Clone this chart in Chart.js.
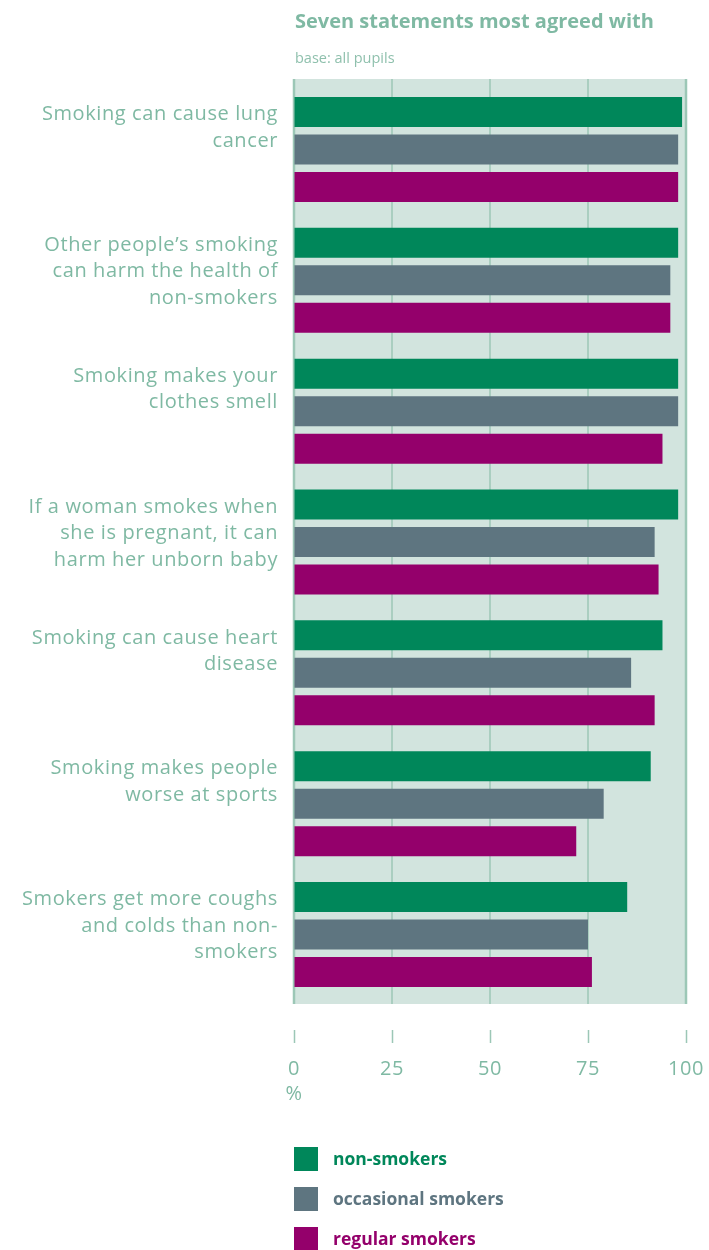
<!DOCTYPE html>
<html>
<head>
<meta charset="utf-8">
<script src="https://cdn.jsdelivr.net/npm/chart.js@4.4.1/dist/chart.umd.min.js"></script>
<style>
  body { margin: 0; background: #fff; font-family: "Open Sans", sans-serif; }
  #wrap { position: relative; width: 709px; height: 1250px; }
  #title { position: absolute; left: 295px; top: 7px; font-size: 20px; font-weight: bold; color: #7fb9a3; white-space: nowrap; }
  #sub { position: absolute; left: 295px; top: 48px; font-size: 14.5px; color: #8fc0ad; white-space: nowrap; }
  #legend { position: absolute; left: 294px; top: 1147px; }
  .item { height: 40px; display: flex; align-items: flex-start; }
  .box { width: 24px; height: 24px; margin-right: 15px; }
  .txt { font-size: 17.5px; font-weight: bold; line-height: 22px; }
</style>
</head>
<body>
<div id="wrap">
  <canvas id="grafica"></canvas>
  <div id="title">Seven statements most agreed with</div>
  <div id="sub">base: all pupils</div>
  <div id="legend"></div>
</div>
<script>
var categorias = [
  ['Smoking can cause lung', 'cancer'],
  ['Other people\u2019s smoking', 'can harm the health of', 'non-smokers'],
  ['Smoking makes your', 'clothes smell'],
  ['If a woman smokes when', 'she is pregnant, it can', 'harm her unborn baby'],
  ['Smoking can cause heart', 'disease'],
  ['Smoking makes people', 'worse at sports'],
  ['Smokers get more coughs', 'and colds than non-', 'smokers']
];
var noFumadores = [99, 98, 98, 98, 94, 91, 85];
var ocasionales = [98, 96, 98, 92, 86, 79, 75];
var regulares = [98, 96, 94, 93, 92, 72, 76];
var marcas = [0, 25, 50, 75, 100];

var series = ['non-smokers', 'occasional smokers', 'regular smokers'];
var colores = ['#00875a', '#5e7580', '#94006b'];
var verdeTexto = '#7fb9a3';

// fondo del area y lineas verticales
var fondo = {
  id: 'fondo',
  beforeLayout: function(chart) { chart.ctx.letterSpacing = '0.6px'; },
  beforeDraw: function(chart) {
    var ctx = chart.ctx, a = chart.chartArea, x = chart.scales.x;
    ctx.letterSpacing = '0.6px';
    ctx.save();
    ctx.fillStyle = '#d2e4de';
    ctx.fillRect(a.left, a.top - 5, a.right - a.left, a.bottom - a.top + 9);
    ctx.strokeStyle = '#9cc7b6';
    marcas.forEach(function(v) {
      var px = x.getPixelForValue(v);
      ctx.lineWidth = (v === 0 || v === 100) ? 2.5 : 1.5;
      ctx.beginPath();
      ctx.moveTo(px, a.top - 5);
      ctx.lineTo(px, a.bottom + 4);
      ctx.stroke();
    });
    ctx.restore();
  }
};

var grafica = document.getElementById('grafica').getContext('2d');

var barras = new Chart(grafica, {
  type: 'bar',
  data: {
    labels: categorias,
    datasets: [{
      label: series[0],
      data: noFumadores,
      backgroundColor: colores[0]
    }, {
      label: series[1],
      data: ocasionales,
      backgroundColor: colores[1]
    }, {
      label: series[2],
      data: regulares,
      backgroundColor: colores[2]
    }]
  },
  options: {
    indexAxis: 'y',
    responsive: true,
    maintainAspectRatio: false,
    animation: false,
    categoryPercentage: 0.86,
    barPercentage: 0.8,
    layout: { padding: { top: 84, right: 23, left: 0, bottom: 140 } },
    plugins: { legend: { display: false }, tooltip: { enabled: false } },
    scales: {
      x: {
        min: 0,
        max: 100,
        afterFit: function(s) { s.height = 110; s.paddingLeft = 0; s.paddingRight = 0; },
        afterBuildTicks: function(s) { s.ticks = marcas.map(function(v) { return { value: v }; }); },
        border: { display: false },
        grid: {
          drawOnChartArea: false,
          tickLength: 43,
          tickColor: '#9cc7b6',
          tickWidth: 1.5,
          tickBorderDash: [0, 30, 13, 200]
        },
        ticks: {
          padding: 14,
          color: verdeTexto,
          font: { family: 'Open Sans', size: 20, lineHeight: 1.25 },
          callback: function(v) { return v === 0 ? ['0', '%'] : String(v); }
        }
      },
      y: {
        afterFit: function(s) { s.width = 294; },
        border: { display: false },
        grid: { display: false, drawTicks: false },
        ticks: {
          padding: 16,
          labelOffset: -8.5,
          color: verdeTexto,
          font: { family: 'Open Sans', size: 20, lineHeight: 1.325 },
          callback: function(v, i) {
            var l = categorias[i];
            return l.length < 3 ? l.concat(['']) : l;
          }
        }
      }
    }
  },
  plugins: [fondo]
});

var leyenda = document.getElementById('legend');
series.forEach(function(nombre, i) {
  leyenda.innerHTML += '<div class="item"><div class="box" style="background:' + colores[i] +
    '"></div><div class="txt" style="color:' + colores[i] + '">' + nombre + '</div></div>';
});
</script>
</body>
</html>
